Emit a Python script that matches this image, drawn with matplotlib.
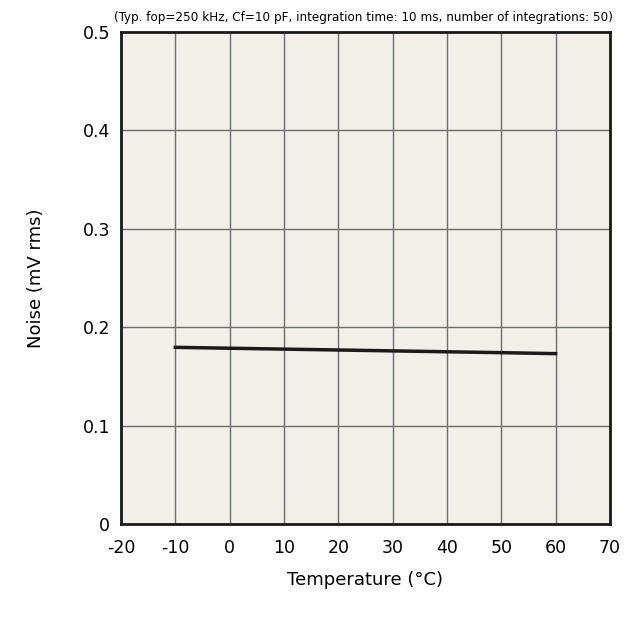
import numpy as np
import matplotlib.pyplot as plt

plt.rcParams['axes.unicode_minus'] = False

temps = [-10, 0, 10, 20, 30, 40, 50, 60]
noise = [0.1795, 0.1786, 0.1777, 0.1768, 0.1759, 0.1750, 0.1741, 0.1731]
xticks = [-20, -10, 0, 10, 20, 30, 40, 50, 60, 70]
yticks = [0, 0.1, 0.2, 0.3, 0.4, 0.5]
ylabels = ['0', '0.1', '0.2', '0.3', '0.4', '0.5']

fig = plt.figure(figsize=(6.38, 6.23), dpi=100)
ax = fig.add_axes([0.1897, 0.159, 0.7663, 0.7896])
ax.set_facecolor('#f1efe7')

ax.plot(temps, noise, color='#1a1a1a', linewidth=2.5, zorder=3)

ax.set_xlim(-20, 70)
ax.set_ylim(0, 0.5)
ax.set_xticks(xticks)
ax.set_yticks(yticks)
ax.set_yticklabels(ylabels)
ax.grid(True, color='#6e6e6e', linewidth=1.0)
ax.set_axisbelow(True)
ax.tick_params(length=0, labelsize=12.5)
ax.tick_params(axis='x', pad=11)
ax.tick_params(axis='y', pad=8)
for s in ax.spines.values():
    s.set_linewidth(2)
    s.set_color('#1a1a1a')

ax.set_xlabel('Temperature (°C)', fontsize=13, labelpad=10)
ax.set_ylabel('Noise (mV rms)', fontsize=13, labelpad=27)
fig.text(0.57, 0.962, '(Typ. fop=250 kHz, Cf=10 pF, integration time: 10 ms, number of integrations: 50)',
         ha='center', va='bottom', fontsize=9.6, fontstretch='condensed')

fig.savefig('out.png', dpi=100)
